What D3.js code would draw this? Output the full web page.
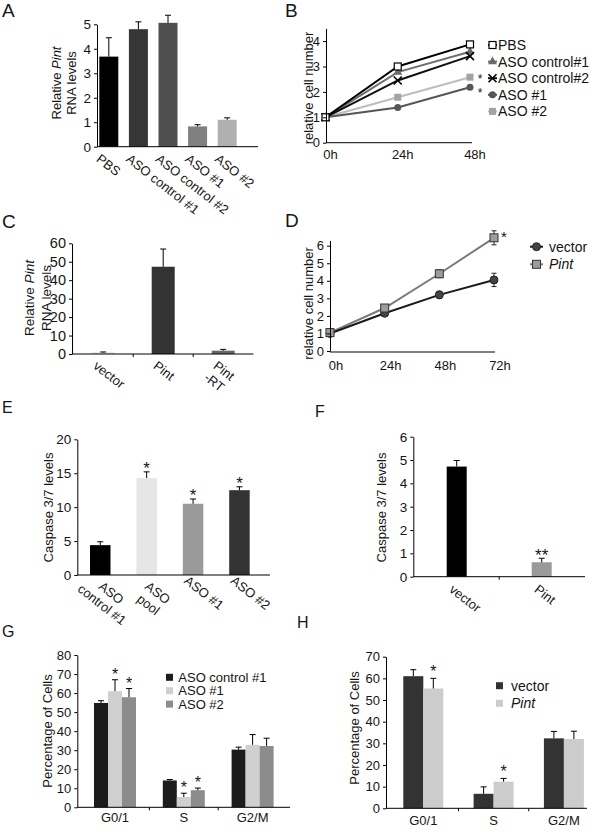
<!DOCTYPE html>
<html><head><meta charset="utf-8">
<script src="https://cdn.jsdelivr.net/npm/d3@7"></script>
<style>
body{margin:0;background:#fff}
svg{display:block}
text{font-family:"Liberation Sans",Arial,Helvetica,sans-serif;fill:#151515}
</style>
</head><body>
<svg id="c" width="600" height="832"></svg>
<script>
// ---------------- DATA ----------------
// Panel A
const aCats = ["PBS", "ASO control #1", "ASO control #2", "ASO #1", "ASO #2"];
const aVals = [3.68, 4.8, 5.06, 0.83, 1.1];
const aErrs = [0.77, 0.3, 0.31, 0.07, 0.08];
const aTicks = [0, 1, 2, 3, 4, 5];

// Panel B
const bTimes = ["0h", "24h", "48h"];
const bSeriesNames = ["PBS", "ASO control#1", "ASO control#2", "ASO #1", "ASO #2"];
const bPBS = [1, 3.0, 3.87];
const bCtrl1 = [1, 2.78, 3.58];
const bCtrl2 = [1, 2.45, 3.41];
const bAso1 = [1, 1.39, 2.18];
const bAso2 = [1, 1.79, 2.58];
const bStars = ["", "", "", "*", "*"];
const bTicks = [0, 1, 2, 3, 4];

// Panel C
const cCats = [["vector"], ["Pint"], ["Pint", "-RT"]];
const cVals = [0.8, 47.3, 1.8];
const cErrs = [0.3, 9.6, 0.7];
const cTicks = [0, 10, 20, 30, 40, 50, 60];

// Panel D
const dTimes = ["0h", "24h", "48h", "72h"];
const dSeriesNames = ["vector", "Pint"];
const dVector = [1.0, 2.15, 3.2, 4.05];
const dVectorErr = [0.12, 0.1, 0.2, 0.38];
const dPint = [1.05, 2.45, 4.4, 6.45];
const dPintErr = [0.1, 0.1, 0.22, 0.4];
const dTicks = [0, 1, 2, 3, 4, 5, 6];

// Panel E
const eCats = [["ASO", "control #1"], ["ASO", "pool"], ["ASO #1"], ["ASO #2"]];
const eVals = [4.4, 14.3, 10.5, 12.5];
const eErrs = [0.5, 0.9, 0.7, 0.5];
const eStars = ["", "*", "*", "*"];
const eTicks = [0, 5, 10, 15, 20];

// Panel F
const fCats = ["vector", "Pint"];
const fVals = [4.72, 0.62];
const fErrs = [0.26, 0.17];
const fStars = ["", "**"];
const fTicks = [0, 1, 2, 3, 4, 5, 6];

// Panel G
const gGroups = ["G0/1", "S", "G2/M"];
const gSeriesNames = ["ASO control #1", "ASO #1", "ASO #2"];
const gCtrl = [54.8, 14.1, 30.3];
const gCtrlErr = [1.2, 0.5, 1.3];
const gAso1 = [61, 5.4, 32.8];
const gAso1Err = [6, 2, 5.4];
const gAso2 = [57.8, 9.0, 32.2];
const gAso2Err = [4.6, 1.1, 4.1];
const gStarsAso1 = ["*", "*", ""];
const gStarsAso2 = ["*", "*", ""];
const gTicks = [0, 10, 20, 30, 40, 50, 60, 70, 80];

// Panel H
const hGroups = ["G0/1", "S", "G2/M"];
const hSeriesNames = ["vector", "Pint"];
const hVector = [61, 6.7, 32.3];
const hVectorErr = [3, 3.2, 3.2];
const hPint = [55.3, 12.3, 32.0];
const hPintErr = [4.7, 1.5, 3.6];
const hStarsPint = ["*", "*", ""];
const hTicks = [0, 10, 20, 30, 40, 50, 60, 70];

// ---------------- HELPERS ----------------
const svg = d3.select("#c");
svg.append("rect").attr("width", 600).attr("height", 832).attr("fill", "#fff");
const ANG = 38;

function letter(t, x, y, fs) {
  svg.append("text").attr("x", x).attr("y", y).attr("font-size", fs).attr("fill", "#111").text(t);
}
function yAxis(y, x, ticks, fs = 13) {
  const a = svg.append("g").attr("transform", `translate(${x},0)`)
    .call(d3.axisLeft(y).tickValues(ticks).tickFormat(d3.format("d"))
      .tickSize(3).tickPadding(3).tickSizeOuter(0));
  a.attr("font-family", null).attr("font-size", fs).attr("color", "#000");
  a.selectAll("text").attr("fill", "#151515");
  return a;
}
function hLine(x1, x2, yy) {
  svg.append("line").attr("x1", x1).attr("x2", x2).attr("y1", yy).attr("y2", yy)
    .attr("stroke", "#000").attr("stroke-width", 1);
}
function vTick(x, yy) {
  svg.append("line").attr("x1", x).attr("x2", x).attr("y1", yy).attr("y2", yy + 3)
    .attr("stroke", "#000");
}
function yLabel(lines, bx, cy, lineH, fs = 13) {
  const t = svg.append("text").attr("transform", `translate(${bx},${cy}) rotate(-90)`)
    .attr("text-anchor", "middle").attr("font-size", fs).attr("fill", "#222");
  lines.forEach((ln, i) => {
    const ts = t.append("tspan").attr("x", 0).attr("y", i * lineH);
    ln.forEach(part => {
      ts.append("tspan").attr("font-style", part.i ? "italic" : "normal").text(part.t);
    });
  });
}
function rotLabel(x, y, lines, anchor, fs = 13, lineH = 15) {
  const t = svg.append("text").attr("transform", `translate(${x},${y}) rotate(${ANG})`)
    .attr("font-size", fs).attr("text-anchor", anchor);
  lines.forEach((ln, i) => t.append("tspan").attr("x", 0).attr("y", fs * 0.72 + i * lineH).text(ln));
}
function star(x, cy, txt, fs = 17) {
  svg.append("text").attr("x", x).attr("y", cy + 0.58 * fs).attr("text-anchor", "middle")
    .attr("font-size", fs).attr("fill", "#111").text(txt);
}
function errUp(cx, yTop, yBase, half = 3) {
  svg.append("line").attr("x1", cx).attr("x2", cx).attr("y1", yBase).attr("y2", yTop).attr("stroke", "#000");
  svg.append("line").attr("x1", cx - half).attr("x2", cx + half).attr("y1", yTop).attr("y2", yTop).attr("stroke", "#000");
}
function band(domain, firstStart, step, width) {
  const pi = 1 - width / step;
  const r0 = firstStart - (pi / 2) * step;
  return d3.scaleBand().domain(domain).range([r0, r0 + domain.length * step])
    .paddingInner(pi).paddingOuter(pi / 2);
}

// ---------------- PANEL A ----------------
letter("A", 2, 17, 19);
{
  const y = d3.scaleLinear().domain([0, 5]).range([146.7, 24.3]);
  const x = band(aCats, 99.3, 29.6, 19);
  const cols = ["#000000", "#363636", "#4f4f4f", "#808080", "#b0b0b0"];
  aCats.forEach((c, i) => {
    svg.append("rect").attr("x", x(c)).attr("width", x.bandwidth())
      .attr("y", y(aVals[i])).attr("height", y(0) - y(aVals[i])).attr("fill", cols[i]);
    errUp(x(c) + x.bandwidth() / 2, y(aVals[i] + aErrs[i]), y(aVals[i]));
    rotLabel(x(c) + 2, y(0) + 6.5, [c], "start");
  });
  yAxis(y, 97, aTicks, 13.5);
  hLine(97, 258, y(0));
  yLabel([[{ t: "Relative " }, { t: "Pint", i: 1 }], [{ t: "RNA levels" }]], 60.5, 83, 15.6);
}

// ---------------- PANEL B ----------------
letter("B", 285, 17, 19);
{
  const y = d3.scaleLinear().domain([0, 4.5]).range([142.7, 142.7 - 4.5 * 25.4]);
  const x = d3.scalePoint().domain(bTimes).range([325.5, 470]);
  const series = [bPBS, bCtrl1, bCtrl2, bAso1, bAso2];
  const lineCols = ["#000000", "#6e6e6e", "#111111", "#555555", "#bdbdbd"];
  const line = d3.line().x((d, i) => x(bTimes[i])).y(d => y(d));
  [4, 3, 1, 2, 0].forEach(k => {
    svg.append("path").datum(series[k]).attr("d", line).attr("fill", "none")
      .attr("stroke", lineCols[k]).attr("stroke-width", 2);
  });
  function marker(k, cx, cy) {
    if (k === 0) {
      svg.append("rect").attr("x", cx - 3.5).attr("y", cy - 3.5).attr("width", 7).attr("height", 7)
        .attr("fill", "#fff").attr("stroke", "#000").attr("stroke-width", 1.2);
    } else if (k === 1) {
      svg.append("path").attr("transform", `translate(${cx},${cy})`)
        .attr("d", d3.symbol(d3.symbolTriangle, 34)()).attr("fill", "#6a6a6a");
    } else if (k === 2) {
      svg.append("path").attr("d", `M${cx - 4},${cy - 4}L${cx + 4},${cy + 4}M${cx - 4},${cy + 4}L${cx + 4},${cy - 4}`)
        .attr("stroke", "#000").attr("stroke-width", 1.6);
    } else if (k === 3) {
      svg.append("circle").attr("cx", cx).attr("cy", cy).attr("r", 3.5).attr("fill", "#555");
    } else {
      svg.append("rect").attr("x", cx - 3.5).attr("y", cy - 3.5).attr("width", 7).attr("height", 7)
        .attr("fill", "#a3a3a3");
    }
  }
  [4, 3, 1, 2, 0].forEach(k => series[k].forEach((v, i) => marker(k, x(bTimes[i]), y(v))));
  // significance stars at 48h (nudged apart slightly so they do not collide)
  const starred = series.map((s, k) => ({ s, k })).filter(o => bStars[o.k])
    .sort((a, b) => y(a.s[2]) - y(b.s[2]));
  starred.forEach((o, j) => star(480, y(o.s[2]) + (j === 0 ? -1.5 : 3), bStars[o.k], 12));
  yAxis(y, 326, bTicks);
  hLine(326, 472, y(0));
  bTimes.forEach(t => svg.append("text").attr("x", x(t) + 5).attr("y", 159).attr("text-anchor", "middle")
    .attr("font-size", 13).text(t));
  yLabel([[{ t: "relative cell number" }]], 313, 88, 15);
  bSeriesNames.forEach((n, k) => {
    const cy = 45 + k * 16.6;
    svg.append("line").attr("x1", 488).attr("x2", 497).attr("y1", cy).attr("y2", cy)
      .attr("stroke", lineCols[k]).attr("stroke-width", 2);
    marker(k, 492.5, cy);
    svg.append("text").attr("x", 498).attr("y", cy + 5).attr("font-size", 14).text(n);
  });
}

// ---------------- PANEL C ----------------
letter("C", 2, 228, 19);
{
  const y = d3.scaleLinear().domain([0, 60]).range([354, 243.3]);
  const keys = cCats.map(d => d.join(" "));
  const x = band(keys, 91.7, 60, 23);
  const cols = ["#d9d9d9", "#333333", "#5d6b6b"];
  keys.forEach((c, i) => {
    svg.append("rect").attr("x", x(c)).attr("width", x.bandwidth())
      .attr("y", y(cVals[i])).attr("height", y(0) - y(cVals[i])).attr("fill", cols[i]);
    errUp(x(c) + x.bandwidth() / 2, y(cVals[i] + cErrs[i]), y(cVals[i]));
    rotLabel(x(c) + 6.5, y(0) + 6, cCats[i], "start");
    if (i > 0) vTick(x(c) - (x.step() - x.bandwidth()) / 2, y(0));
  });
  yAxis(y, 72, cTicks, 14.5);
  hLine(72, 253.5, y(0));
  yLabel([[{ t: "Relative " }, { t: "Pint", i: 1 }], [{ t: "RNA levels" }]], 33.5, 298, 17, 13.5);
}

// ---------------- PANEL D ----------------
letter("D", 285, 227, 19);
{
  const y = d3.scaleLinear().domain([0, 6.3]).range([351, 351 - 6.3 * 17.55]);
  const x = d3.scalePoint().domain(dTimes).range([330, 494]);
  const line = d3.line().x((d, i) => x(dTimes[i])).y(d => y(d));
  svg.append("path").datum(dPint).attr("d", line).attr("fill", "none").attr("stroke", "#7a7a7a").attr("stroke-width", 2);
  svg.append("path").datum(dVector).attr("d", line).attr("fill", "none").attr("stroke", "#1a1a1a").attr("stroke-width", 2);
  function ebar(cx, v, e) {
    svg.append("line").attr("x1", cx).attr("x2", cx).attr("y1", y(v - e)).attr("y2", y(v + e)).attr("stroke", "#222");
    [v - e, v + e].forEach(w => svg.append("line").attr("x1", cx - 2.5).attr("x2", cx + 2.5)
      .attr("y1", y(w)).attr("y2", y(w)).attr("stroke", "#222"));
  }
  function circ(cx, cy) {
    svg.append("circle").attr("cx", cx).attr("cy", cy).attr("r", 4).attr("fill", "#444").attr("stroke", "#222");
  }
  function sq(cx, cy) {
    svg.append("rect").attr("x", cx - 4).attr("y", cy - 4).attr("width", 8).attr("height", 8)
      .attr("fill", "#9c9c9c").attr("stroke", "#333");
  }
  dVector.forEach((v, i) => { ebar(x(dTimes[i]), v, dVectorErr[i]); });
  dPint.forEach((v, i) => { ebar(x(dTimes[i]), v, dPintErr[i]); });
  dVector.forEach((v, i) => circ(x(dTimes[i]), y(v)));
  dPint.forEach((v, i) => sq(x(dTimes[i]), y(v)));
  star(x("72h") + 10, y(dPint[3] + dPintErr[3]) + 3, "*", 15);
  yAxis(y, 330, dTicks);
  hLine(330, 495, y(0) + 1);
  dTimes.forEach(t => svg.append("text").attr("x", x(t) + 6).attr("y", 370).attr("text-anchor", "middle")
    .attr("font-size", 13).text(t));
  yLabel([[{ t: "relative cell number" }]], 313, 303.5, 15);
  dSeriesNames.forEach((n, k) => {
    const cy = 246.7 + k * 17.6;
    svg.append("line").attr("x1", 530).attr("x2", 543).attr("y1", cy).attr("y2", cy)
      .attr("stroke", k ? "#7a7a7a" : "#1a1a1a").attr("stroke-width", 2);
    k ? sq(536.5, cy) : circ(536.5, cy);
    svg.append("text").attr("x", 549).attr("y", cy + 5).attr("font-size", 14)
      .attr("font-style", k ? "italic" : "normal").text(n);
  });
}

// ---------------- PANEL E ----------------
letter("E", 2, 413, 16);
{
  const y = d3.scaleLinear().domain([0, 20]).range([575, 439.3]);
  const keys = eCats.map(d => d.join(" "));
  const x = band(keys, 90, 46.4, 20.5);
  const cols = ["#000000", "#e6e6e6", "#9a9a9a", "#333333"];
  keys.forEach((c, i) => {
    svg.append("rect").attr("x", x(c)).attr("width", x.bandwidth())
      .attr("y", y(eVals[i])).attr("height", y(0) - y(eVals[i])).attr("fill", cols[i]);
    const cx = x(c) + x.bandwidth() / 2;
    errUp(cx, y(eVals[i] + eErrs[i]), y(eVals[i]));
    if (eStars[i]) star(cx, y(eVals[i] + eErrs[i]) - 8, eStars[i]);
    rotLabel(cx + 14, y(0) + 14, eCats[i], "middle");
  });
  yAxis(y, 77.3, eTicks, 13.5);
  hLine(77.3, 270, y(0));
  yLabel([[{ t: "Caspase 3/7 levels" }]], 52.5, 507.5, 15);
}

// ---------------- PANEL F ----------------
letter("F", 315, 417, 16);
{
  const y = d3.scaleLinear().domain([0, 6]).range([576.7, 436.7]);
  const x = band(fCats, 446.7, 85, 20);
  const cols = ["#000000", "#9a9a9a"];
  fCats.forEach((c, i) => {
    svg.append("rect").attr("x", x(c)).attr("width", x.bandwidth())
      .attr("y", y(fVals[i])).attr("height", y(0) - y(fVals[i])).attr("fill", cols[i]);
    const cx = x(c) + x.bandwidth() / 2;
    errUp(cx, y(fVals[i] + fErrs[i]), y(fVals[i]));
    if (fStars[i]) star(cx, y(fVals[i] + fErrs[i]) - 7.5, fStars[i]);
    rotLabel(x(c) + 7.5, y(0) + 7, [c], "start");
    if (i > 0) vTick(x(c) - (x.step() - x.bandwidth()) / 2, y(0));
  });
  yAxis(y, 413.3, fTicks, 13.5);
  hLine(413.3, 585, y(0));
  yLabel([[{ t: "Caspase 3/7 levels" }]], 386, 507.5, 15);
}

// ---------------- PANEL G ----------------
letter("G", 2, 637, 16);
{
  const y = d3.scaleLinear().domain([0, 80]).range([807.3, 655]);
  const x0 = band(gGroups, 94, 68.8, 42);
  const x1 = d3.scaleBand().domain(gSeriesNames).range([0, x0.bandwidth()]);
  const vals = [gCtrl, gAso1, gAso2];
  const errs = [gCtrlErr, gAso1Err, gAso2Err];
  const stars = [null, gStarsAso1, gStarsAso2];
  const cols = ["#1c1c1c", "#cfcfcf", "#8c8c8c"];
  gGroups.forEach((g, gi) => {
    gSeriesNames.forEach((s, si) => {
      const v = vals[si][gi], e = errs[si][gi];
      const bx = x0(g) + x1(s);
      svg.append("rect").attr("x", bx).attr("width", x1.bandwidth()).attr("y", y(v))
        .attr("height", y(0) - y(v)).attr("fill", cols[si]);
      const cx = bx + x1.bandwidth() / 2;
      errUp(cx, y(v + e), y(v));
      if (stars[si] && stars[si][gi]) star(cx, y(v + e) - 9, stars[si][gi], 16);
    });
    if (gi > 0) vTick(x0(g) - (x0.step() - x0.bandwidth()) / 2, y(0));
    svg.append("text").attr("x", x0(g) + x0.bandwidth() / 2).attr("y", 821.5)
      .attr("text-anchor", "middle").attr("font-size", 13).text(g);
  });
  yAxis(y, 77.3, gTicks);
  hLine(77.3, 290, y(0));
  yLabel([[{ t: "Percentage of Cells" }]], 52, 731, 15);
  gSeriesNames.forEach((n, k) => {
    const cy = 677.3 + k * 13.4;
    svg.append("rect").attr("x", 166).attr("y", cy - 3.5).attr("width", 7).attr("height", 7).attr("fill", cols[k]);
    svg.append("text").attr("x", 178.3).attr("y", cy + 4.7).attr("font-size", 13).text(n);
  });
}

// ---------------- PANEL H ----------------
letter("H", 297, 628, 16);
{
  const y = d3.scaleLinear().domain([0, 70]).range([808.3, 656.7]);
  const x0 = band(hGroups, 403.3, 70.3, 40);
  const x1 = d3.scaleBand().domain(hSeriesNames).range([0, x0.bandwidth()]);
  const vals = [hVector, hPint];
  const errs = [hVectorErr, hPintErr];
  const stars = [null, hStarsPint];
  const cols = ["#333333", "#cccccc"];
  hGroups.forEach((g, gi) => {
    hSeriesNames.forEach((s, si) => {
      const v = vals[si][gi], e = errs[si][gi];
      const bx = x0(g) + x1(s);
      svg.append("rect").attr("x", bx).attr("width", x1.bandwidth()).attr("y", y(v))
        .attr("height", y(0) - y(v)).attr("fill", cols[si]);
      const cx = bx + x1.bandwidth() / 2;
      errUp(cx, y(v + e), y(v));
      if (stars[si] && stars[si][gi]) star(cx, y(v + e) - 10.5, stars[si][gi], 16);
    });
    if (gi > 0) vTick(x0(g) - (x0.step() - x0.bandwidth()) / 2, y(0));
    svg.append("text").attr("x", x0(g) + x0.bandwidth() / 2).attr("y", 825)
      .attr("text-anchor", "middle").attr("font-size", 13).text(g);
  });
  yAxis(y, 386, hTicks);
  hLine(386, 587, y(0));
  yLabel([[{ t: "Percentage of Cells" }]], 359, 728, 15);
  hSeriesNames.forEach((n, k) => {
    const cy = 685.7 + k * 17.6;
    svg.append("rect").attr("x", 496).attr("y", cy - 3.5).attr("width", 7).attr("height", 7).attr("fill", cols[k]);
    svg.append("text").attr("x", 511).attr("y", cy + 5).attr("font-size", 14)
      .attr("font-style", k ? "italic" : "normal").text(n);
  });
}
</script>
</body></html>
